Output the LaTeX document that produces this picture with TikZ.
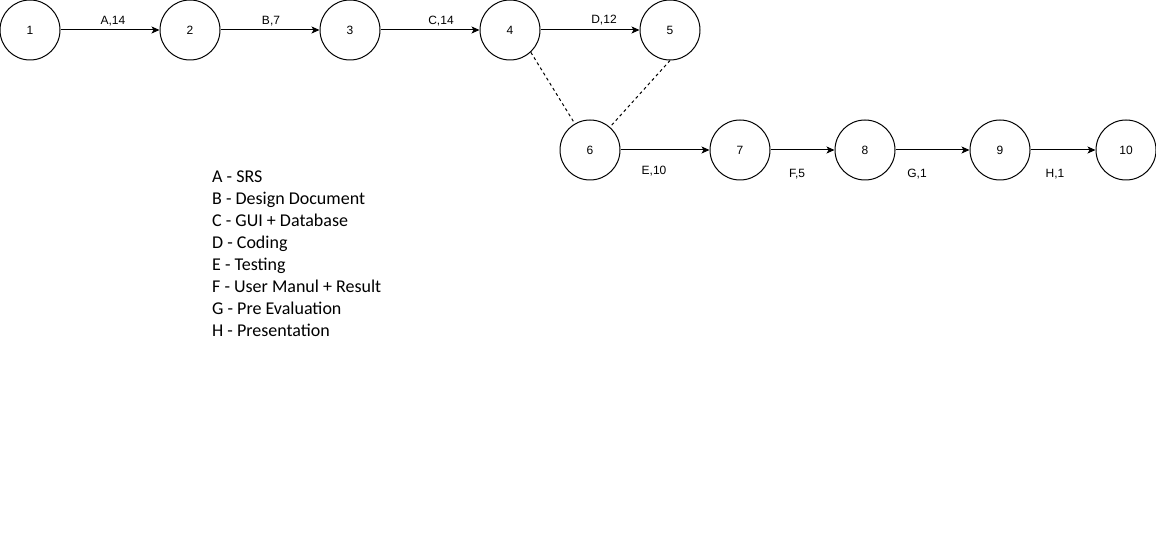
\documentclass[tikz,border=0pt]{standalone}
\usepackage{fontspec}
\setmainfont{Liberation Sans}
\newfontfamily\legendfont{Carlito}
\usetikzlibrary{arrows.meta}
\begin{document}
\begin{tikzpicture}[x=1pt,y=-1pt,
  evt/.style={draw, circle, minimum size=60pt, inner sep=0pt, line width=1pt, font=\fontsize{12}{14}\selectfont},
  act/.style={-{Stealth[length=8pt,width=7pt,inset=2pt]}, line width=1pt},
  dummy/.style={line width=1pt, dash pattern=on 3pt off 3pt},
  elabel/.style={anchor=base, inner sep=0pt, font=\fontsize{12}{14}\selectfont},
  legend/.style={anchor=base west, inner sep=0pt, font=\legendfont\fontsize{18}{22}\selectfont}]
\useasboundingbox[fill=white] (0,0) rectangle (1156,534);
\node[evt] (n1) at (30,30) {1};
\node[evt] (n2) at (190,30) {2};
\node[evt] (n3) at (350,30) {3};
\node[evt] (n4) at (510,30) {4};
\node[evt] (n5) at (670,30) {5};
\node[evt] (n6) at (590,150) {6};
\node[evt] (n7) at (740,150) {7};
\node[evt] (n8) at (865,150) {8};
\node[evt] (n9) at (1000,150) {9};
\node[evt] (n10) at (1126,150) {10};
\draw[act] (n1) -- (n2);
\draw[act] (n2) -- (n3);
\draw[act] (n3) -- (n4);
\draw[act] (n4) -- (n5);
\draw[act] (n6) -- (n7);
\draw[act] (n7) -- (n8);
\draw[act] (n8) -- (n9);
\draw[act] (n9) -- (n10);
\draw[dummy] (n4.-47) -- (n6.120);
\draw[dummy] (n5.south) -- (n6.49);
\node[elabel] (la) at (113,25) {A,14};
\node[elabel] (lb) at (271,25) {B,7};
\node[elabel] (lc) at (441,25) {C,14};
\node[elabel] (ld) at (604,24) {D,12};
\node[elabel] (le) at (654,174.5) {E,10};
\node[elabel] (lf) at (797,177.5) {F,5};
\node[elabel] (lg) at (917,177.5) {G,1};
\node[elabel] (lh) at (1055,177.5) {H,1};
\foreach \t [count=\i] in {A - SRS, B - Design Document, C - GUI + Database, D - Coding, E - Testing, F - User Manul + Result, G - Pre Evaluation, H - Presentation}
  \node[legend] (leg\i) at (212,161+22*\i) {\t};
\end{tikzpicture}
\end{document}
